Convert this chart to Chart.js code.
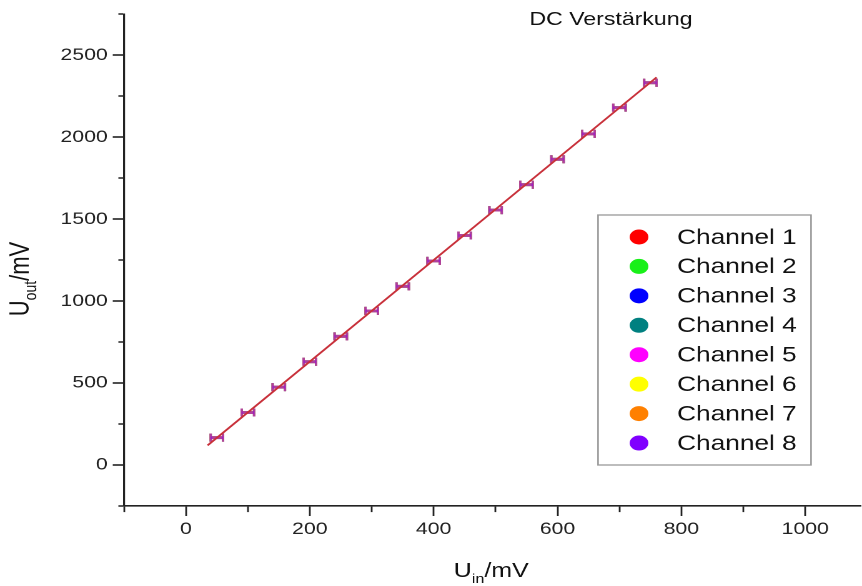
<!DOCTYPE html>
<html>
<head>
<meta charset="utf-8">
<title>DC Verstärkung</title>
<script src="https://cdn.jsdelivr.net/npm/chart.js@4.4.1/dist/chart.umd.min.js"></script>
<style>
  html, body { margin: 0; padding: 0; background: #fff; overflow: hidden; }
  /* the reference is stretched horizontally, so the chart is drawn narrower and scaled */
  #wrap { position: absolute; left: 0; top: 0; width: 690px; height: 586px; transform: scaleX(1.24928); transform-origin: 0 0; }
</style>
</head>
<body>
<div id="wrap"><canvas id="chart"></canvas></div>
<script>
// Input voltage (mV) and output voltage (mV)
const uIn = [50, 100, 150, 200, 250, 300, 350, 400, 450, 500, 550, 600, 650, 700, 750];
const uOut = [167, 320, 475, 630, 785, 940, 1090, 1245, 1400, 1555, 1710, 1865, 2020, 2180, 2332];
const uInErr = [10, 10, 10, 10, 10, 10, 10, 10, 10, 10, 10, 10, 10, 10, 10];

// Linear fit line end points
const fitIn = [35, 760];
const fitOut = [120, 2365];

const channelNames = ["Channel 1", "Channel 2", "Channel 3", "Channel 4", "Channel 5", "Channel 6", "Channel 7", "Channel 8"];
const channelColors = ["#ff0000", "#19f019", "#0000ff", "#008080", "#ff00ff", "#ffff00", "#ff8000", "#8000ff"];

const xTickLabels = [0, 200, 400, 600, 800, 1000];
const yTickLabels = [0, 500, 1000, 1500, 2000, 2500];

const FONT = "'Liberation Sans', Arial, sans-serif";
Chart.defaults.font.family = FONT;

const channelSets = channelNames.map((name, i) => ({
  label: name,
  isChannel: true,
  data: uIn.map((x, j) => ({ x: x, y: uOut[j] })),
  backgroundColor: channelColors[i],
  borderColor: channelColors[i],
  pointRadius: 0,
  pointStyle: "circle",
}));

const fitSet = {
  label: "Fit",
  type: "line",
  data: fitIn.map((x, j) => ({ x: x, y: fitOut[j] })),
  borderColor: "#c8303a",
  borderWidth: 1.7,
  pointRadius: 0,
  fill: false,
};

// horizontal error bars with caps, under the fit line
const errorBars = {
  id: "errorBars",
  beforeDatasetsDraw(chart) {
    const { ctx, scales: { x, y } } = chart;
    ctx.save();
    ctx.globalAlpha = 0.55;
    chart.data.datasets.forEach((ds) => {
      if (!ds.isChannel) return;
      ctx.strokeStyle = ds.borderColor;
      ds.data.forEach((p, j) => {
        const xl = x.getPixelForValue(p.x - uInErr[j]);
        const xr = x.getPixelForValue(p.x + uInErr[j]);
        const py = y.getPixelForValue(p.y);
        ctx.lineWidth = 2.8;
        ctx.beginPath();
        ctx.moveTo(xl, py); ctx.lineTo(xr, py);
        ctx.stroke();
        ctx.lineWidth = 1.8;
        ctx.beginPath();
        ctx.moveTo(xl, py - 4); ctx.lineTo(xl, py + 4);
        ctx.moveTo(xr, py - 4); ctx.lineTo(xr, py + 4);
        ctx.stroke();
      });
    });
    ctx.restore();
  },
};

// title, axis titles with subscripts and the boxed legend
const labels = {
  id: "labels",
  afterDraw(chart) {
    const { ctx, chartArea } = chart;
    ctx.save();
    ctx.fillStyle = "#111";

    ctx.font = "18.5px " + FONT;
    ctx.textAlign = "center";
    ctx.textBaseline = "middle";
    ctx.fillText("DC Verstärkung", 489, 20);

    const drawSub = (main, sub, rest, big, small) => {
      ctx.textAlign = "left";
      ctx.textBaseline = "alphabetic";
      ctx.font = big + "px " + FONT;
      const w1 = ctx.measureText(main).width;
      const w3 = ctx.measureText(rest).width;
      ctx.font = small + "px " + FONT;
      const w2 = ctx.measureText(sub).width;
      let px = -(w1 + w2 + w3) / 2;
      ctx.font = big + "px " + FONT;
      ctx.fillText(main, px, 0);
      px += w1;
      ctx.font = small + "px " + FONT;
      ctx.fillText(sub, px, 6);
      px += w2;
      ctx.font = big + "px " + FONT;
      ctx.fillText(rest, px, 0);
    };

    ctx.save();
    ctx.translate((chartArea.left + chartArea.right) / 2 - 1, 577);
    drawSub("U", "in", "/mV", 20, 13);
    ctx.restore();

    ctx.save();
    ctx.translate(23, 279);
    ctx.rotate(-Math.PI / 2);
    drawSub("U", "out", "/mV", 22, 14);
    ctx.restore();

    // legend
    const bx = 478.7, by = 215, bw = 170.5, bh = 250;
    ctx.fillStyle = "#fff";
    ctx.fillRect(bx, by, bw, bh);
    ctx.strokeStyle = "#999";
    ctx.lineWidth = 1.3;
    ctx.strokeRect(bx, by, bw, bh);
    ctx.font = "21px " + FONT;
    ctx.textAlign = "left";
    ctx.textBaseline = "middle";
    chart.data.datasets.filter((ds) => ds.isChannel).forEach((ds, i) => {
      const ry = 237 + i * 29.43;
      ctx.fillStyle = ds.backgroundColor;
      ctx.beginPath();
      ctx.arc(511.5, ry, 7.5, 0, Math.PI * 2);
      ctx.fill();
      ctx.fillStyle = "#111";
      ctx.fillText(ds.label, 542, ry + 1);
    });
    ctx.restore();
  },
};

const tickFont = { family: FONT, size: 17 };

new Chart(document.getElementById("chart").getContext("2d"), {
  type: "scatter",
  data: { datasets: [...channelSets, fitSet] },
  options: {
    responsive: true,
    maintainAspectRatio: false,
    animation: false,
    devicePixelRatio: 2,
    layout: { padding: { top: 12, right: 0, left: 0, bottom: 0 } },
    plugins: {
      legend: { display: false },
      tooltip: { enabled: false },
    },
    scales: {
      x: {
        type: "linear",
        min: -100,
        max: 1090,
        afterFit: (s) => { s.height = 80; },
        // ticks every 100 mV from the axis start
        afterBuildTicks: (s) => {
          const t = [];
          for (let v = -100; v <= 1000; v += 100) t.push({ value: v });
          s.ticks = t;
        },
        border: { display: true, color: "#222", width: 1.6 },
        grid: {
          drawOnChartArea: false,
          tickLength: 10,
          tickColor: "#222",
          tickWidth: 1.4,
          tickBorderDash: (c) => (c.tick && xTickLabels.includes(c.tick.value) ? [] : [5.5, 100]),
        },
        ticks: {
          autoSkip: false,
          maxRotation: 0,
          padding: 3,
          color: "#222",
          font: tickFont,
          callback: (v) => (xTickLabels.includes(v) ? v : ""),
        },
      },
      y: {
        min: -250,
        max: 2750,
        afterFit: (s) => { s.width = 99.25; },
        border: { display: true, color: "#222", width: 1.6 },
        grid: {
          drawOnChartArea: false,
          tickLength: 9,
          tickColor: "#222",
          tickWidth: 1.6,
          tickBorderDash: (c) => (c.tick && yTickLabels.includes(c.tick.value) ? [] : [0, 4.5, 4.5, 100]),
        },
        ticks: {
          stepSize: 250,
          includeBounds: false,
          autoSkip: false,
          padding: 4,
          color: "#222",
          font: tickFont,
          callback: (v) => (yTickLabels.includes(v) ? v : ""),
        },
      },
    },
  },
  plugins: [errorBars, labels],
});
</script>
</body>
</html>
